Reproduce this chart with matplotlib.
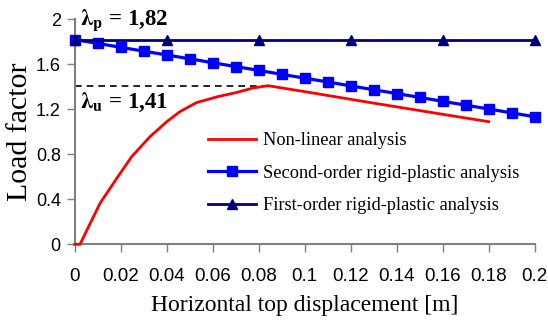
import matplotlib
matplotlib.use("Agg")
import matplotlib.pyplot as plt

plt.rcParams["mathtext.fontset"] = "stix"

# Data
nl_x = [0.0, 0.0023, 0.011, 0.0183, 0.0248, 0.0327, 0.040, 0.0458, 0.053, 0.0617, 0.0704, 0.0777, 0.084, 0.10, 0.13, 0.155, 0.18]
nl_y = [0.0, 0.0, 0.364, 0.587, 0.78, 0.956, 1.09, 1.18, 1.26, 1.31, 1.35, 1.39, 1.41, 1.357, 1.255, 1.172, 1.09]

so_x = [0.0, 0.01, 0.02, 0.03, 0.04, 0.05, 0.06, 0.07, 0.08, 0.09, 0.10,
        0.11, 0.12, 0.13, 0.14, 0.15, 0.16, 0.17, 0.18, 0.19, 0.20]
so_y = [1.82, 1.786, 1.751, 1.717, 1.683, 1.649, 1.614, 1.580, 1.546, 1.511, 1.477,
        1.443, 1.408, 1.374, 1.340, 1.306, 1.271, 1.237, 1.203, 1.168, 1.134]

fo_x = [0.0, 0.04, 0.08, 0.12, 0.16, 0.20]
fo_y = [1.82, 1.82, 1.82, 1.82, 1.82, 1.82]

lam_p = 1.82
lam_u = 1.41
lam_u_x = 0.084

x_ticks = [0, 0.02, 0.04, 0.06, 0.08, 0.1, 0.12, 0.14, 0.16, 0.18, 0.2]
x_tick_labels = ["0", "0.02", "0.04", "0.06", "0.08", "0.1", "0.12", "0.14", "0.16", "0.18", "0.2"]
y_ticks = [0, 0.4, 0.8, 1.2, 1.6, 2]
y_tick_labels = ["0", "0.4", "0.8", "1.2", "1.6", "2"]

fig = plt.figure(figsize=(5.48, 3.24), dpi=100)
ax = fig.add_axes([0.1363, 0.246, 0.8394, 0.6944])

serif = "Liberation Serif"
sans = "Liberation Sans"

ax.plot([0, lam_u_x], [lam_u, lam_u], color="black", linestyle=(0, (4, 3)), linewidth=1.2, zorder=2)
l1, = ax.plot(nl_x, nl_y, color="#FF0000", linewidth=2.0, label="Non-linear analysis", zorder=3, clip_on=False)
l2, = ax.plot(so_x, so_y, color="#0000FF", linewidth=2.3, marker="s", markersize=7,
              label="Second-order rigid-plastic analysis", zorder=4, clip_on=False)
l3, = ax.plot(fo_x, fo_y, color="#000080", linewidth=2.0, marker="^", markersize=7.5,
              label="First-order rigid-plastic analysis", zorder=5, clip_on=False)

ax.set_xlim(0, 0.2)
ax.set_ylim(0, 2)
ax.set_xticks(x_ticks)
ax.set_xticklabels(x_tick_labels, fontfamily=sans, fontsize=13.5)
ax.set_yticks(y_ticks)
ax.set_yticklabels(y_tick_labels, fontfamily=sans, fontsize=13)
ax.tick_params(axis="x", direction="out", length=6, width=1, color="#808080", pad=11)
ax.tick_params(axis="y", direction="out", length=6, width=1, color="#808080", pad=4)

for s in ["top", "right"]:
    ax.spines[s].set_visible(False)
for s in ["left", "bottom"]:
    ax.spines[s].set_color("#808080")
    ax.spines[s].set_linewidth(1.5)

ax.set_xlabel("Horizontal top displacement [m]", fontfamily=serif, fontsize=17)
ax.set_ylabel("Load factor", fontfamily=serif, fontsize=21.5)
ax.xaxis.set_label_coords(0.5, -0.225)
ax.yaxis.set_label_coords(-0.09, 0.5)

ax.text(0.0025, 1.99, r"$\mathbf{\lambda_p}$" + " = 1,82", fontfamily=serif, fontsize=16.5,
        fontweight="bold", va="center", ha="left")
ax.text(0.0025, 1.26, r"$\mathbf{\lambda_u}$" + " = 1,41", fontfamily=serif, fontsize=16.5,
        fontweight="bold", va="center", ha="left")

leg = ax.legend(handles=[l1, l2, l3], loc="upper left", bbox_to_anchor=(0.27, 0.54),
                frameon=False, prop={"family": serif, "size": 13.2},
                handlelength=2.6, handletextpad=0.4, labelspacing=0.85, borderpad=0)

fig.savefig("out.png", dpi=100)
